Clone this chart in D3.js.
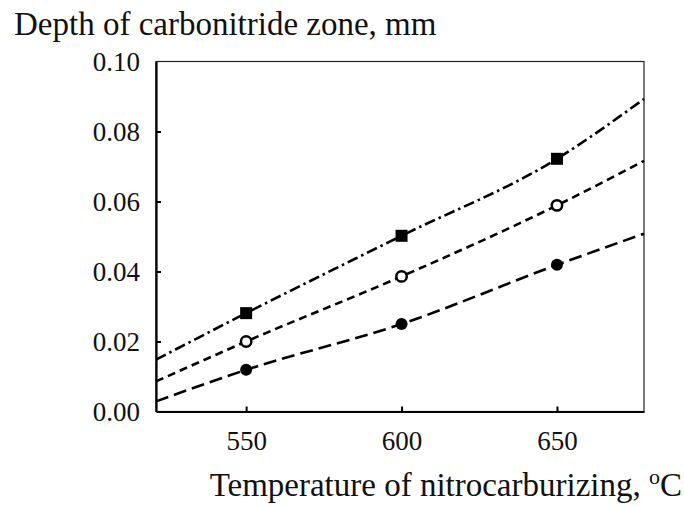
<!DOCTYPE html>
<html><head><meta charset="utf-8">
<script src="https://cdn.jsdelivr.net/npm/d3@7"></script>
<style>body{margin:0;background:#fff}svg{display:block}text{font-family:"Liberation Serif","Times New Roman",serif;fill:#111}</style>
</head><body>
<svg id="c" width="684" height="507"></svg>
<script>
const temps = [550, 600, 650];
const squares = [0.0281, 0.0502, 0.0722];
const openCircles = [0.0200, 0.0386, 0.0589];
const filledCircles = [0.0119, 0.0250, 0.0419];
const fitTemps = [521, 550, 600, 650, 678];
const fitSquares = [0.0148, 0.0281, 0.0502, 0.0722, 0.0893];
const fitOpen = [0.0086, 0.0200, 0.0386, 0.0589, 0.0716];
const fitFilled = [0.0029, 0.0119, 0.0250, 0.0419, 0.0508];
const xTicks = [550, 600, 650];
const yTicks = [0, 0.02, 0.04, 0.06, 0.08, 0.10];

const svg = d3.select("#c");
const x = d3.scaleLinear().domain([521, 678]).range([156, 644]);
const y = d3.scaleLinear().domain([0, 0.10]).range([411.5, 61.5]);

svg.append("rect").attr("x",156).attr("y",61.5).attr("width",488).attr("height",350)
  .attr("fill","none").attr("stroke","#222").attr("stroke-width",1.2);

const xa = svg.append("g").attr("transform","translate(0,411.5)")
  .call(d3.axisBottom(x).tickValues(xTicks).tickSizeInner(-5).tickSizeOuter(0).tickPadding(19).tickFormat(d3.format("d")));
const ya = svg.append("g").attr("transform","translate(156,0)")
  .call(d3.axisLeft(y).tickValues(yTicks).tickSizeInner(-5).tickSizeOuter(0).tickPadding(16).tickFormat(d3.format(".2f")));
[xa, ya].forEach(g => {
  g.attr("font-family", "Liberation Serif");
  g.select(".domain").attr("stroke","#000").attr("stroke-width",2.2);
  g.selectAll(".tick line").attr("stroke","#000").attr("stroke-width",2);
  g.selectAll("text").attr("font-size",27).attr("fill","#111").style("font-family","'Liberation Serif',serif");
});
ya.selectAll(".tick").filter(d => d === 0 || d === 0.10).select("line").remove();
ya.selectAll("text").attr("dy","0.35em");

const line = d3.line().x((d,i)=>x(fitTemps[i])).y(d=>y(d)).curve(d3.curveMonotoneX);
const plot = svg.append("g");
plot.append("path").datum(fitSquares).attr("d",line).attr("fill","none").attr("stroke","#000")
  .attr("stroke-width",2.6).attr("stroke-dasharray","11,4,2.5,4");
plot.append("path").datum(fitOpen).attr("d",line).attr("fill","none").attr("stroke","#000")
  .attr("stroke-width",2.6).attr("stroke-dasharray","8,5");
plot.append("path").datum(fitFilled).attr("d",line).attr("fill","none").attr("stroke","#000")
  .attr("stroke-width",2.6).attr("stroke-dasharray","13,6");

plot.selectAll("rect.sq").data(squares).join("rect").attr("class","sq")
  .attr("x",(d,i)=>x(temps[i])-6).attr("y",d=>y(d)-6).attr("width",12).attr("height",12).attr("fill","#000");
plot.selectAll("circle.oc").data(openCircles).join("circle").attr("class","oc")
  .attr("cx",(d,i)=>x(temps[i])).attr("cy",d=>y(d)).attr("r",5.2).attr("fill","#fff").attr("stroke","#000").attr("stroke-width",2.5);
plot.selectAll("circle.fc").data(filledCircles).join("circle").attr("class","fc")
  .attr("cx",(d,i)=>x(temps[i])).attr("cy",d=>y(d)).attr("r",6).attr("fill","#000");

svg.append("text").attr("x",14).attr("y",35).attr("font-size",33).text("Depth of carbonitride zone, mm");
const xt = svg.append("text").attr("x",682).attr("y",496).attr("text-anchor","end").attr("font-size",33);
xt.append("tspan").text("Temperature of nitrocarburizing, ");
xt.append("tspan").attr("font-size",22).attr("dy",-12).text("o");
xt.append("tspan").attr("dy",12).text("C");
</script>
</body></html>
